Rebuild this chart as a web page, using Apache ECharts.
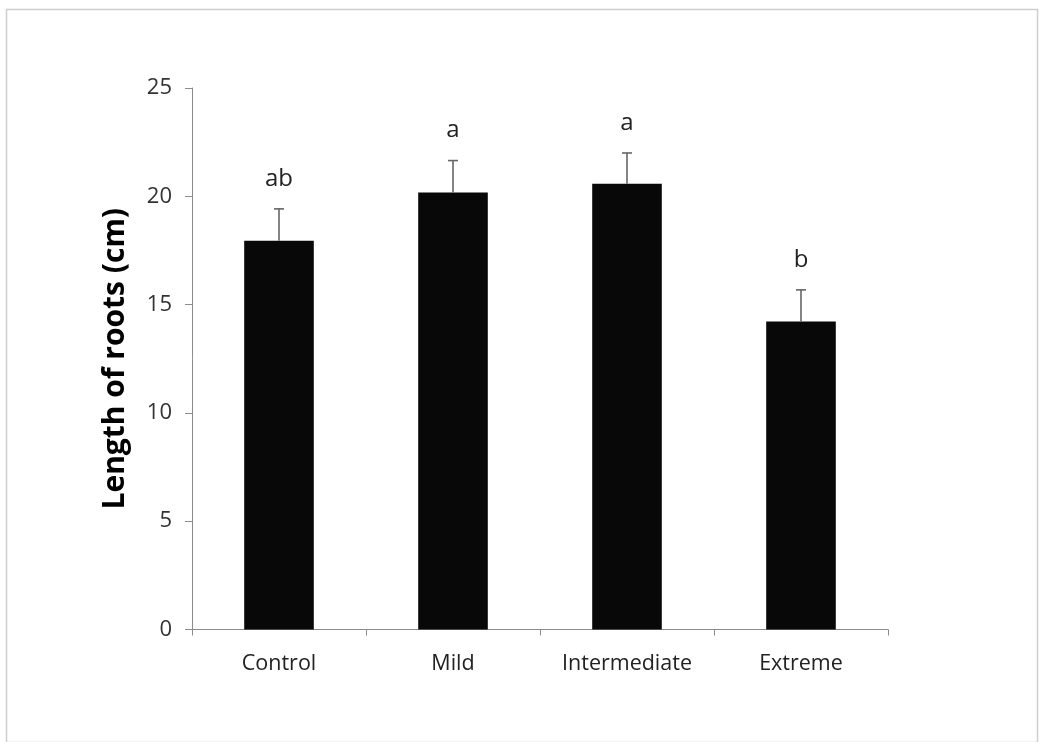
<!DOCTYPE html>
<html><head><meta charset="utf-8">
<script src="https://cdn.jsdelivr.net/npm/echarts@6/dist/echarts.min.js"></script>
<style>html,body{margin:0;padding:0;background:#fff}#c{width:1039px;height:742px}</style>
</head><body><div id="c"></div>
<script>
const categories = ['Control', 'Mild', 'Intermediate', 'Extreme'];
const meanValues = [17.95, 20.17, 20.58, 14.22];
const errorTops = [19.42, 21.65, 22.0, 15.68];
const letters = ['ab', 'a', 'a', 'b'];
const yTicks = [0, 5, 10, 15, 20, 25];

const chart = echarts.init(document.getElementById('c'));
const font = "'Open Sans', 'Noto Sans', sans-serif";
chart.setOption({
  animation: false,
  backgroundColor: '#fff',
  graphic: [{
    type: 'rect', left: 4, top: 7, shape: {width: 1031, height: 733},
    style: {fill: 'none', stroke: '#cfcfcf', lineWidth: 1.5}, z: -1
  }],
  grid: {left: 192, right: 151, top: 88, bottom: 112.5},
  xAxis: {
    type: 'category', data: categories,
    axisLine: {lineStyle: {color: '#8c8c8c', width: 1}},
    axisTick: {show: true, alignWithLabel: false, length: 6, lineStyle: {color: '#8c8c8c'}},
    axisLabel: {color: '#222', fontSize: 21.5, fontFamily: font, margin: 23}
  },
  yAxis: {
    type: 'value', min: yTicks[0], max: yTicks[yTicks.length - 1], interval: 5,
    name: 'Length of roots (cm)', nameLocation: 'middle', nameGap: 62, nameRotate: 90,
    nameTextStyle: {fontSize: 30, fontWeight: 'bold', color: '#000', fontFamily: font},
    axisLine: {show: true, lineStyle: {color: '#8c8c8c', width: 1}},
    axisTick: {show: true, inside: false, length: 7, lineStyle: {color: '#8c8c8c'}},
    splitLine: {show: false},
    axisLabel: {color: '#333', fontSize: 22, fontFamily: font, margin: 20}
  },
  series: [{
    type: 'bar', data: meanValues, barWidth: '40%',
    itemStyle: {color: '#080808'}, z: 2
  }, {
    type: 'custom', z: 3,
    data: categories.map((c, i) => [i, meanValues[i], errorTops[i], letters[i]]),
    renderItem: function (params, api) {
      const base = api.coord([api.value(0), api.value(1)]);
      const top = api.coord([api.value(0), api.value(2)]);
      const cap = 5;
      const st = {stroke: '#666', lineWidth: 1.6};
      return {
        type: 'group', children: [
          {type: 'line', shape: {x1: base[0], y1: base[1], x2: top[0], y2: top[1]}, style: st},
          {type: 'line', shape: {x1: top[0] - cap, y1: top[1], x2: top[0] + cap, y2: top[1]}, style: st},
          {type: 'text', x: top[0], y: top[1] - 18, style: {
            text: api.value(3), fill: '#222', fontSize: 24, fontFamily: font,
            align: 'center', verticalAlign: 'bottom'}}
        ]
      };
    }
  }]
});
</script></body></html>
